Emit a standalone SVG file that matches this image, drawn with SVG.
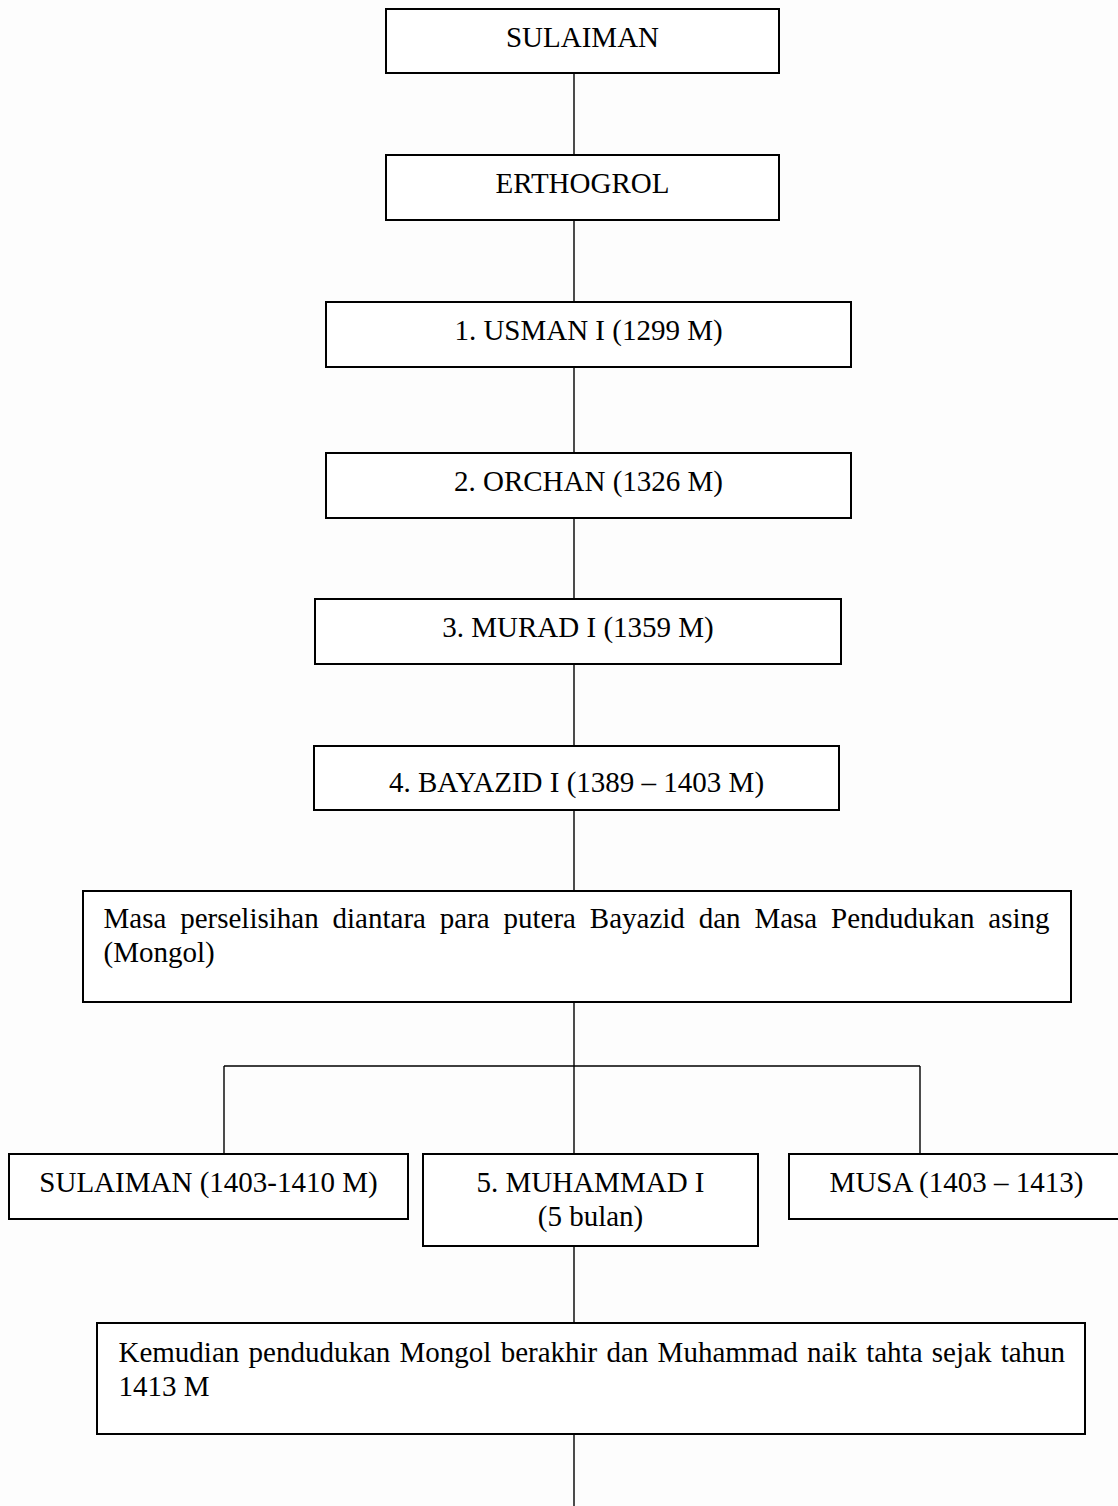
<svg xmlns="http://www.w3.org/2000/svg" width="1118" height="1506" viewBox="0 0 1118 1506">
<style>
.box{fill:#fff;stroke:#000;stroke-width:2}
.lbl{font-family:"Liberation Serif","Times New Roman",serif;font-size:29px;fill:#000}
.c{text-anchor:middle}
.conn{stroke:#000;stroke-width:1.4;fill:none}
</style>
<rect width="1118" height="1506" fill="#fdfdfd"/>
<g id="connectors">
<path class="conn" d="M574 73V155 M574 220V302 M574 367V453 M574 518V599 M574 664V746 M574 810V891 M574 1002V1066 M224 1066H920 M224 1066V1154 M574 1066V1154 M920 1066V1154 M574 1246V1323 M574 1434V1506"/>
</g>
<g id="n1"><rect class="box" x="386" y="9" width="393" height="64"/><text class="lbl c" x="582.5" y="47">SULAIMAN</text></g>
<g id="n2"><rect class="box" x="386" y="155" width="393" height="65"/><text class="lbl c" x="582.5" y="193">ERTHOGROL</text></g>
<g id="n3"><rect class="box" x="326" y="302" width="525" height="65"/><text class="lbl c" x="588.5" y="340">1. USMAN I (1299 M)</text></g>
<g id="n4"><rect class="box" x="326" y="453" width="525" height="65"/><text class="lbl c" x="588.5" y="491">2. ORCHAN (1326 M)</text></g>
<g id="n5"><rect class="box" x="315" y="599" width="526" height="65"/><text class="lbl c" x="578" y="637">3. MURAD I (1359 M)</text></g>
<g id="n6"><rect class="box" x="314" y="746" width="525" height="64"/><text class="lbl c" x="576.5" y="792">4. BAYAZID I (1389 – 1403 M)</text></g>
<g id="n7"><rect class="box" x="83" y="891" width="988" height="111"/><text class="lbl" x="103.5" y="928" word-spacing="6.6">Masa perselisihan diantara para putera Bayazid dan Masa Pendudukan asing</text><text class="lbl" x="103.5" y="962">(Mongol)</text></g>
<g id="n8"><rect class="box" x="9" y="1154" width="399" height="65"/><text class="lbl c" x="208.5" y="1192">SULAIMAN (1403-1410 M)</text></g>
<g id="n9"><rect class="box" x="423" y="1154" width="335" height="92"/><text class="lbl c" x="590.5" y="1192">5. MUHAMMAD I</text><text class="lbl c" x="590.5" y="1226">(5 bulan)</text></g>
<g id="n10"><rect class="box" x="789" y="1154" width="335" height="65"/><text class="lbl c" x="956.5" y="1192">MUSA (1403 – 1413)</text></g>
<g id="n11"><rect class="box" x="97" y="1323" width="988" height="111"/><text class="lbl" x="118.5" y="1362" word-spacing="2">Kemudian pendudukan Mongol berakhir dan Muhammad naik tahta sejak tahun</text><text class="lbl" x="118.5" y="1396">1413 M</text></g>
</svg>
